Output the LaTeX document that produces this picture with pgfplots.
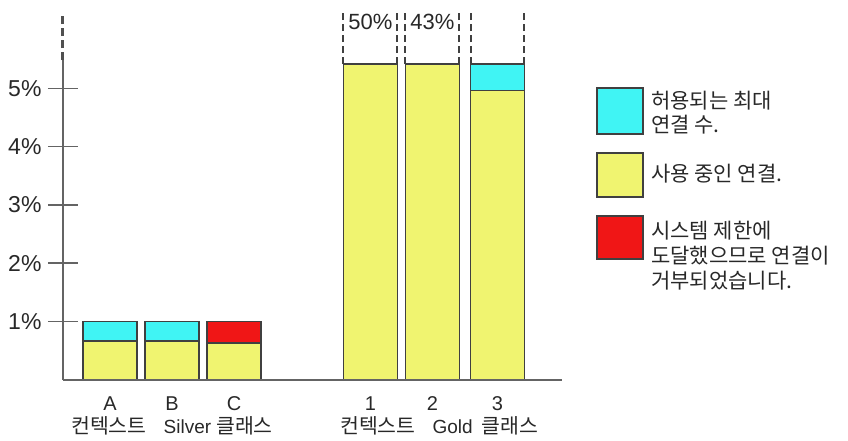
\documentclass[border=0pt]{standalone}
\usepackage{fontspec}
\setmainfont{Liberation Sans}
\newfontfamily\kr{Noto Sans CJK KR}
\usepackage{pgfplots}
\pgfplotsset{compat=1.18}
\definecolor{cy}{RGB}{64,244,244}
\definecolor{yl}{RGB}{240,244,112}
\definecolor{rd}{RGB}{240,22,22}
\definecolor{edge}{RGB}{64,64,64}
\definecolor{axgray}{RGB}{100,100,100}
\definecolor{txt}{RGB}{40,40,40}
\newcommand{\lat}{\fontsize{19bp}{19bp}\selectfont}
\newcommand{\kor}{\kr\fontsize{20.5bp}{25bp}\selectfont}
\begin{document}
\begin{tikzpicture}
\useasboundingbox (-63bp,-61.5bp) rectangle (785bp,379.5bp);
\begin{axis}[
 at={(0,0)}, anchor=south west,
 scale only axis, width=499bp, height=369.5bp,
 xmin=-0.758, xmax=7.29, ymin=0, ymax=6.35,
 axis line style={draw=none},
 xtick={0,1,2,4.2,5.2,6.25},
 xticklabels={A,B,C,1,2,3},
 x tick style={draw=none},
 xtick pos=bottom,
 ytick={1,2,3,4,5},
 ytick pos=left,
 y tick style={draw=axgray, line width=1.5bp},
 major tick length=30bp,
 tick align=center,
 yticklabel={\pgfmathprintnumber{\tick}\%},
 /pgf/number format/assume math mode=true,
 yticklabel style={font=\fontsize{23bp}{23bp}\selectfont, text=txt, xshift=-3bp},
 xticklabel style={font=\fontsize{20bp}{20bp}\selectfont, anchor=base, yshift=-15.5bp, text=txt, inner sep=1pt},
 bar width=54bp,
 clip=false,
]
\addplot[ybar, bar shift=0pt, fill=cy, draw=edge, line width=1.5bp] coordinates {(0,1.0) (1,1.0) (6.25,5.42)};
\addplot[ybar, bar shift=0pt, fill=rd, draw=edge, line width=1.5bp] coordinates {(2,1.0)};
\addplot[ybar, bar shift=0pt, fill=yl, draw=edge, line width=1.5bp] coordinates {(0,0.66) (1,0.66) (2,0.63) (4.2,5.42) (5.2,5.42) (6.25,4.97)};
% axes
\draw[axgray, line width=2bp] (rel axis cs:0,0) -- (rel axis cs:1,0);
\draw[axgray, line width=2bp] (rel axis cs:0,0) -- (axis cs:-0.758,5.49);
\draw[axgray!80!black, line width=3bp, dash pattern=on 8bp off 4bp] (axis cs:-0.758,5.49) -- (axis cs:-0.758,6.3);
% break guides
\foreach \xx in {3.765,4.635,4.765,5.635,5.815,6.685}{
  \edef\tmp{\noexpand\draw[edge, line width=2bp, dash pattern=on 7bp off 4bp] (axis cs:\xx,5.42) -- (axis cs:\xx,6.32);}\tmp
}
\node[font=\fontsize{22bp}{22bp}\selectfont, text=txt] at (axis cs:4.2,6.15) {50\%};
\node[font=\fontsize{22bp}{22bp}\selectfont, text=txt] at (axis cs:5.2,6.15) {43\%};
% second line of category labels
\node[anchor=base, text=txt, inner sep=0pt] at (axis cs:1,0) [yshift=-54bp] {{\kor 컨텍스트}\hspace{17bp}{\lat Silver}\hspace{5bp}{\kor 클래스}};
\node[anchor=base, text=txt, inner sep=0pt] at (axis cs:5.31,0) [yshift=-54bp] {{\kor 컨텍스트}\hspace{17bp}{\lat Gold}\hspace{9bp}{\kor 클래스}};
\end{axis}
% legend
\draw[edge, line width=1.5bp, fill=cy] (534bp,245.5bp) rectangle (580bp,291.5bp);
\draw[edge, line width=1.5bp, fill=yl] (534bp,182.5bp) rectangle (580bp,226.5bp);
\draw[edge, line width=1.5bp, fill=rd] (534bp,120.5bp) rectangle (580bp,163.5bp);
\node[anchor=base west, inner sep=0pt, text=txt, font=\kr\fontsize{21bp}{25bp}\selectfont] at (588bp,270.5bp) {허용되는 최대};
\node[anchor=base west, inner sep=0pt, text=txt, font=\kr\fontsize{21bp}{25bp}\selectfont] at (588bp,246.5bp) {연결 수.};
\node[anchor=base west, inner sep=0pt, text=txt, font=\kr\fontsize{21bp}{25bp}\selectfont] at (588bp,197.5bp) {사용 중인 연결.};
\node[anchor=base west, inner sep=0pt, text=txt, font=\kr\fontsize{21bp}{25bp}\selectfont] at (588bp,141bp) {시스템 제한에};
\node[anchor=base west, inner sep=0pt, text=txt, font=\kr\fontsize{21bp}{25bp}\selectfont] at (588bp,116bp) {도달했으므로 연결이};
\node[anchor=base west, inner sep=0pt, text=txt, font=\kr\fontsize{21bp}{25bp}\selectfont] at (588bp,91bp) {거부되었습니다.};
\end{tikzpicture}
\end{document}
